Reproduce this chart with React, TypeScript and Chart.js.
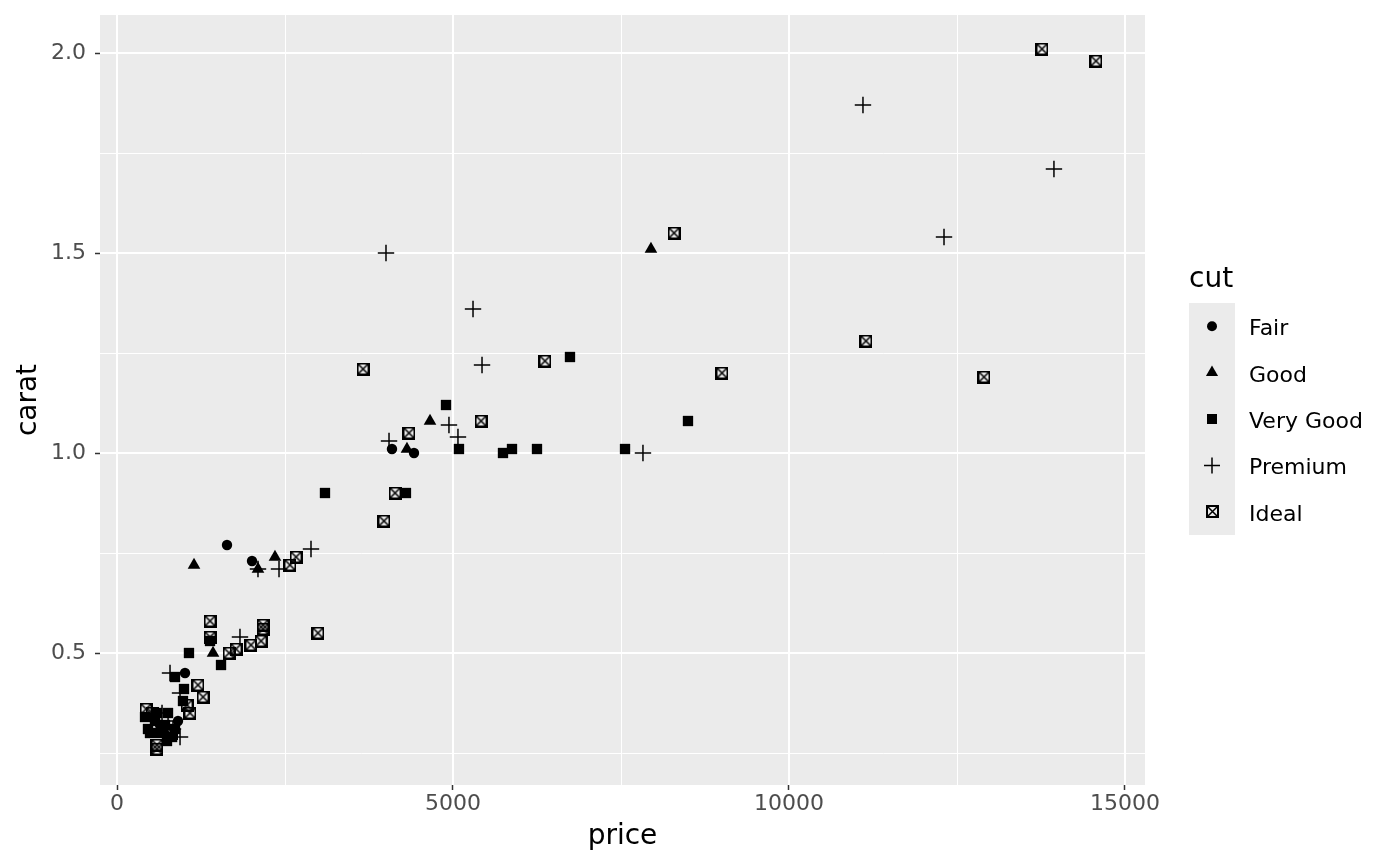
import React, { useEffect, useRef } from 'react';
import { Chart, registerables } from 'chart.js';
Chart.register(...registerables);

const cutLevels = ['Fair', 'Good', 'Very Good', 'Premium', 'Ideal'];
const xTickValues = [0, 5000, 10000, 15000];
const yTickValues = [0.5, 1.0, 1.5, 2.0];
const xMinorValues = [2500, 7500, 12500];
const yMinorValues = [0.25, 0.75, 1.25, 1.75];
const xLabel = 'price';
const yLabel = 'carat';
const legendTitle = 'cut';

const fairPrice = [4092, 4420, 1637, 2009, 1012, 908, 640, 700];
const fairCarat = [1.01, 1.0, 0.77, 0.73, 0.45, 0.33, 0.32, 0.3];

const goodPrice = [7946, 4658, 4315, 1146, 2351, 2098, 1429];
const goodCarat = [1.51, 1.08, 1.01, 0.72, 0.74, 0.71, 0.5];

const veryGoodPrice = [6741, 4896, 5089, 5744, 5878, 6250, 7560, 8497, 3095, 4300, 1071, 1548, 863, 997, 1384, 982, 491, 565, 640, 714, 744, 759, 863, 417, 595, 820, 461];
const veryGoodCarat = [1.24, 1.12, 1.01, 1.0, 1.01, 1.01, 1.01, 1.08, 0.9, 0.9, 0.5, 0.47, 0.44, 0.41, 0.53, 0.38, 0.3, 0.33, 0.3, 0.32, 0.28, 0.35, 0.31, 0.34, 0.35, 0.29, 0.31];

const premiumPrice = [11101, 13943, 12307, 4003, 5298, 5432, 4048, 4940, 5074, 7827, 2887, 2411, 2098, 1830, 789, 938, 670, 521, 833, 938, 760];
const premiumCarat = [1.87, 1.71, 1.54, 1.5, 1.36, 1.22, 1.03, 1.07, 1.04, 1.0, 0.76, 0.71, 0.71, 0.54, 0.45, 0.4, 0.35, 0.34, 0.31, 0.29, 0.33];

const idealPrice = [13765, 14568, 8289, 11146, 12902, 9003, 6369, 3661, 5417, 4345, 4137, 3973, 2991, 2664, 2574, 2173, 2173, 2143, 1994, 1667, 1771, 1384, 1384, 1205, 1280, 1042, 1086, 432, 521, 595, 595, 818];
const idealCarat = [2.01, 1.98, 1.55, 1.28, 1.19, 1.2, 1.23, 1.21, 1.08, 1.05, 0.9, 0.83, 0.55, 0.74, 0.72, 0.57, 0.56, 0.53, 0.52, 0.5, 0.51, 0.58, 0.54, 0.42, 0.39, 0.37, 0.35, 0.36, 0.35, 0.27, 0.26, 0.3];

const FONT = "'DejaVu Sans', sans-serif";

function toPoints(xs: number[], ys: number[]) {
  return xs.map((x, i) => ({ x, y: ys[i] }));
}

function makeIdealMarker(): HTMLCanvasElement {
  const c = document.createElement('canvas');
  c.width = 13;
  c.height = 13;
  const g = c.getContext('2d')!;
  g.strokeStyle = '#000';
  g.lineWidth = 2;
  g.strokeRect(1, 1, 11, 11);
  g.beginPath();
  g.moveTo(1.5, 1.5);
  g.lineTo(11.5, 11.5);
  g.moveTo(11.5, 1.5);
  g.lineTo(1.5, 11.5);
  g.lineWidth = 1.5;
  g.stroke();
  return c;
}

function drawKey(ctx: CanvasRenderingContext2D, kind: number, x: number, y: number, ideal: HTMLCanvasElement) {
  ctx.save();
  ctx.fillStyle = '#000';
  ctx.strokeStyle = '#000';
  ctx.beginPath();
  if (kind === 0) {
    ctx.arc(x, y, 5, 0, Math.PI * 2);
    ctx.fill();
  } else if (kind === 1) {
    const r = 7;
    ctx.moveTo(x, y - r);
    ctx.lineTo(x + r * Math.sin((2 * Math.PI) / 3), y - r * Math.cos((2 * Math.PI) / 3));
    ctx.lineTo(x + r * Math.sin((4 * Math.PI) / 3), y - r * Math.cos((4 * Math.PI) / 3));
    ctx.closePath();
    ctx.fill();
  } else if (kind === 2) {
    ctx.rect(x - 5, y - 5, 10, 10);
    ctx.fill();
  } else if (kind === 3) {
    ctx.lineWidth = 1.5;
    ctx.moveTo(x - 8, y);
    ctx.lineTo(x + 8, y);
    ctx.moveTo(x, y - 8);
    ctx.lineTo(x, y + 8);
    ctx.stroke();
  } else {
    ctx.drawImage(ideal, Math.round(x - ideal.width / 2), Math.round(y - ideal.height / 2));
  }
  ctx.restore();
}

export default function App() {
  const ref = useRef<HTMLCanvasElement | null>(null);

  useEffect(() => {
    document.body.style.margin = '0';
    const canvas = ref.current;
    if (!canvas) return;
    const ideal = makeIdealMarker();

    const panelPlugin = {
      id: 'panel',
      beforeDraw(chart: any) {
        const { ctx, chartArea } = chart;
        const xs = chart.scales.x;
        const ys = chart.scales.y;
        ctx.save();
        ctx.fillStyle = '#EBEBEB';
        ctx.fillRect(chartArea.left, chartArea.top, chartArea.right - chartArea.left, chartArea.bottom - chartArea.top);
        ctx.strokeStyle = '#FFFFFF';
        ctx.lineWidth = 1;
        ctx.beginPath();
        xMinorValues.forEach((v) => {
          const p = Math.round(xs.getPixelForValue(v)) + 0.5;
          ctx.moveTo(p, chartArea.top);
          ctx.lineTo(p, chartArea.bottom);
        });
        yMinorValues.forEach((v) => {
          const p = Math.round(ys.getPixelForValue(v)) + 0.5;
          ctx.moveTo(chartArea.left, p);
          ctx.lineTo(chartArea.right, p);
        });
        ctx.stroke();
        ctx.lineWidth = 2;
        ctx.beginPath();
        xTickValues.forEach((v) => {
          const p = Math.round(xs.getPixelForValue(v));
          ctx.moveTo(p, chartArea.top);
          ctx.lineTo(p, chartArea.bottom);
        });
        yTickValues.forEach((v) => {
          const p = Math.round(ys.getPixelForValue(v));
          ctx.moveTo(chartArea.left, p);
          ctx.lineTo(chartArea.right, p);
        });
        ctx.stroke();
        ctx.restore();
      },
      afterDraw(chart: any) {
        const { ctx } = chart;
        ctx.save();
        ctx.fillStyle = '#000';
        ctx.font = `28px ${FONT}`;
        ctx.textBaseline = 'alphabetic';
        ctx.textAlign = 'left';
        ctx.fillText(legendTitle, 1189, 287);
        const keyTop = 303;
        const keyH = 46.4;
        ctx.fillStyle = '#EBEBEB';
        ctx.fillRect(1189, keyTop, 46, keyH * cutLevels.length);
        ctx.font = `22px ${FONT}`;
        ctx.textBaseline = 'alphabetic';
        cutLevels.forEach((lab, i) => {
          const cy = keyTop + keyH * i + keyH / 2;
          drawKey(ctx, i, 1212, cy, ideal);
          ctx.fillStyle = '#000';
          ctx.fillText(lab, 1249, cy + 9);
        });
        ctx.restore();
      },
    };

    const chart = new Chart(canvas, {
      type: 'scatter',
      data: {
        datasets: [
          { label: cutLevels[0], data: toPoints(fairPrice, fairCarat), pointStyle: 'circle', pointRadius: 5.2, backgroundColor: '#000', borderColor: '#000', borderWidth: 0 },
          { label: cutLevels[1], data: toPoints(goodPrice, goodCarat), pointStyle: 'triangle', pointRadius: 7.3, backgroundColor: '#000', borderColor: '#000', borderWidth: 0 },
          { label: cutLevels[2], data: toPoints(veryGoodPrice, veryGoodCarat), pointStyle: 'rect', pointRadius: 7.3, backgroundColor: '#000', borderColor: '#000', borderWidth: 0 },
          { label: cutLevels[3], data: toPoints(premiumPrice, premiumCarat), pointStyle: 'cross', pointRadius: 8.2, backgroundColor: '#000', borderColor: '#000', borderWidth: 1.5 },
          { label: cutLevels[4], data: toPoints(idealPrice, idealCarat), pointStyle: ideal as any, pointRadius: 6, backgroundColor: '#000', borderColor: '#000', borderWidth: 0 },
        ],
      },
      options: {
        responsive: false,
        animation: false,
        events: [],
        layout: { padding: { top: 15, right: 255, left: 0, bottom: 0 } },
        plugins: { legend: { display: false }, tooltip: { enabled: false } },
        scales: {
          x: {
            type: 'linear',
            min: -253,
            max: 15298,
            afterBuildTicks: (scale: any) => {
              scale.ticks = xTickValues.map((v) => ({ value: v }));
            },
            afterFit: (scale: any) => {
              scale.height = 81;
              scale.paddingLeft = 0;
              scale.paddingRight = 0;
            },
            grid: { drawOnChartArea: false, drawTicks: true, tickLength: 5, tickColor: '#333333', tickWidth: 1.5 },
            border: { display: false },
            ticks: {
              color: '#4D4D4D',
              font: { family: FONT, size: 22 },
              padding: 1,
              maxRotation: 0,
              autoSkip: false,
              callback: (v: any) => String(v),
            },
            title: { display: true, text: xLabel, color: '#000', font: { family: FONT, size: 28 }, padding: { top: 2, bottom: 12 } },
          },
          y: {
            type: 'linear',
            min: 0.17,
            max: 2.095,
            afterBuildTicks: (scale: any) => {
              scale.ticks = yTickValues.map((v) => ({ value: v }));
            },
            afterFit: (scale: any) => {
              scale.width = 100;
              scale.paddingTop = 0;
              scale.paddingBottom = 0;
            },
            grid: { drawOnChartArea: false, drawTicks: true, tickLength: 5, tickColor: '#333333', tickWidth: 1.5 },
            border: { display: false },
            ticks: {
              color: '#4D4D4D',
              font: { family: FONT, size: 22 },
              padding: 9,
              autoSkip: false,
              callback: (v: any) => Number(v).toFixed(1),
            },
            title: { display: true, text: yLabel, color: '#000', font: { family: FONT, size: 28 }, padding: { top: 12, bottom: 2 } },
          },
        },
      },
      plugins: [panelPlugin],
    });
    return () => chart.destroy();
  }, []);

  return (
    <div style={{ width: 1400, height: 866 }}>
      <canvas ref={ref} width={1400} height={866} />
    </div>
  );
}
